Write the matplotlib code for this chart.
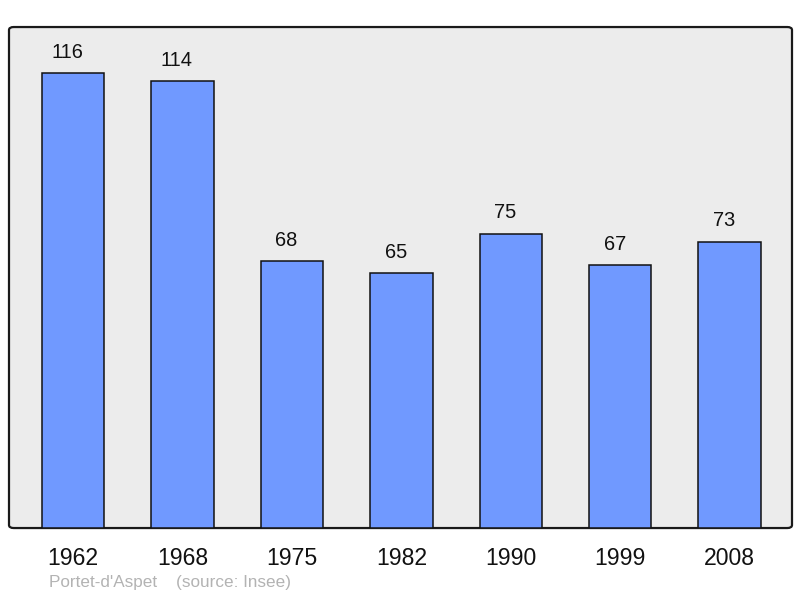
import matplotlib
matplotlib.use("Agg")
import matplotlib.pyplot as plt
from matplotlib.patches import FancyBboxPatch

years = ["1962", "1968", "1975", "1982", "1990", "1999", "2008"]
population = [116, 114, 68, 65, 75, 67, 73]
footer = "Portet-d'Aspet    (source: Insee)"

plt.rcParams['font.family'] = ['Liberation Sans', 'DejaVu Sans']

fig = plt.figure(figsize=(8, 5.98), dpi=100)
ax = fig.add_axes([0.01125, 0.117, 0.97875, 0.8378])
ax.set_facecolor("none")

# rounded frame
frame = FancyBboxPatch((0, 0), 1, 1, boxstyle="round,pad=0,rounding_size=0.006",
                       transform=ax.transAxes, facecolor="#ececec",
                       edgecolor="#1a1a1a", linewidth=1.6, zorder=0, clip_on=False)
ax.add_patch(frame)

x = list(range(len(years)))
ax.bar(x, population, width=0.57, color="#7099ff", edgecolor="#111111",
       linewidth=1.1, zorder=2)
for xi, v in zip(x, population):
    ax.annotate(str(v), (xi, v), xytext=(-4, 8.3), textcoords="offset points",
                ha="center", va="bottom", fontsize=14.4, color="#111111")

ax.set_xlim(-0.585, 6.57)
ax.set_ylim(0, 127.8)
ax.set_xticks(x)
ax.set_xticklabels(years, fontsize=16.6, color="#111111")
ax.tick_params(axis="x", length=0, pad=13.5)
ax.set_yticks([])
for s in ax.spines.values():
    s.set_visible(False)

fig.text(49 / 800, 1 - 583 / 598, footer, fontsize=12.3, color="#b3b3b3",
         ha="left", va="center")

fig.savefig("out.png", dpi=100)
